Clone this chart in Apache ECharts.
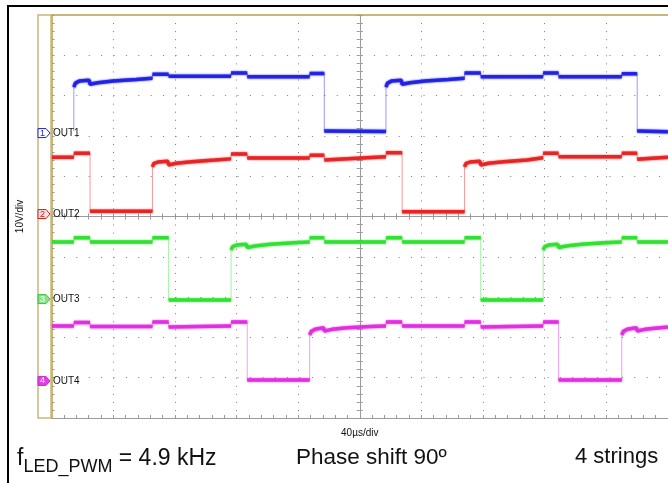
<!DOCTYPE html>
<html>
<head>
<meta charset="utf-8">
<title>OUT1-OUT4 phase shifted PWM</title>
<script src="https://cdn.jsdelivr.net/npm/echarts@6/dist/echarts.min.js"></script>
<style>
  html, body { margin: 0; padding: 0; background: #fff; }
  #scope { width: 668px; height: 483px; }
</style>
</head>
<body>
<div id="scope"></div>
<script>
// scope screen: 40us/div horizontally, 10V/div vertically, 10 x 10 div
// time in us, 0 = centre of screen; volts are relative to each channel's ground marker
var channelNames = ['OUT1', 'OUT2', 'OUT3', 'OUT4'];
var channelColors = ['#1f1fe6', '#e82020', '#2ee02e', '#e12ae1'];
var channelOffsets = [20.7, 0.6, -20.5, -40.8];   // position of the ground markers (V on screen)

// OUT1 low part before the first edge is hidden under its label on the screen
var out1 = [[-185.5, 0.5], [-185.5, 11.4], [-184.5, 12.4], [-182, 12.9], [-175.5, 13.1],
  [-175, 12.1], [-170, 12.5], [-160, 12.9], [-145, 13.3], [-134.5, 13.6], [-134.5, 14.6], [-124, 14.6],
  [-124, 14.1], [-83.5, 14.1], [-83.5, 14.9], [-73, 14.9], [-73, 14.0], [-32.5, 14.0], [-32.5, 14.8],
  [-23, 14.8], [-23, 0.5], [17, 0.4], [17, 11.4], [18, 12.4], [20.5, 12.9], [27, 13.1], [27.5, 12.1],
  [32.5, 12.5], [42.5, 12.9], [57.5, 13.3], [68, 13.6], [68, 14.9], [78.5, 14.9], [78.5, 14.0],
  [119, 14.0], [119, 14.9], [129, 14.9], [129, 14.0], [170, 14.0], [170, 14.7], [180, 14.7],
  [180, 0.5], [200, 0.3]];

var out2 = [[-200, 14.1], [-185.5, 14.1], [-185.5, 15.1], [-175, 15.1], [-175, 0.7], [-134.5, 0.7],
  [-134.5, 11.7], [-133.5, 12.6], [-131, 12.9], [-124.5, 13.1], [-124, 12.2], [-119, 12.6], [-109, 13.0],
  [-94, 13.4], [-83.5, 13.7], [-83.5, 14.9], [-73, 14.9], [-73, 13.9], [-32.5, 13.9], [-32.5, 14.6],
  [-23, 14.6], [-23, 13.4], [17, 14.2], [17, 15.2], [27.5, 15.2], [27.5, 0.6], [68, 0.6], [68, 11.7],
  [69, 12.6], [71.5, 12.9], [78, 13.1], [78.5, 12.2], [83.5, 12.6], [93.5, 13.0], [108.5, 13.4],
  [119, 14.0], [119, 15.1], [129, 15.1], [129, 14.2], [170, 14.2], [170, 15.1], [180, 15.1],
  [180, 13.6], [200, 14.1]];

var out3 = [[-200, 14.2], [-185.5, 14.2], [-185.5, 15.2], [-175, 15.2], [-175, 14.2], [-134.5, 14.2],
  [-134.5, 15.2], [-124, 15.2], [-124, -0.2], [-83.5, -0.2], [-83.5, 12.2], [-82.5, 13.0], [-80, 13.4],
  [-73.5, 13.6], [-73, 12.8], [-68, 13.2], [-58, 13.6], [-43, 14.0], [-32.5, 14.2], [-32.5, 15.2],
  [-23, 15.2], [-23, 14.2], [17, 14.2], [17, 15.2], [27.5, 15.2], [27.5, 14.2], [68, 14.2], [68, 15.2],
  [78.5, 15.2], [78.5, -0.2], [119, -0.2], [119, 12.2], [120, 13.0], [122.5, 13.4], [128.5, 13.6],
  [129, 12.8], [134, 13.2], [144, 13.6], [159, 14.0], [170, 14.2], [170, 15.2], [180, 15.2],
  [180, 14.2], [200, 14.2]];

var out4 = [[-200, 13.6], [-185.5, 13.6], [-185.5, 14.5], [-175, 14.5], [-175, 13.5], [-134.5, 13.5],
  [-134.5, 14.6], [-124, 14.6], [-124, 13.4], [-83.5, 13.6], [-83.5, 14.6], [-73, 14.6], [-73, 0.2],
  [-32.5, 0.2], [-32.5, 11.4], [-31.5, 12.3], [-29, 12.8], [-23.5, 13.2], [-23, 12.4], [-18, 12.8],
  [-8, 13.2], [7, 13.5], [17, 13.6], [17, 14.6], [27.5, 14.6], [27.5, 13.6], [68, 13.6], [68, 14.6],
  [78.5, 14.6], [78.5, 13.4], [119, 13.6], [119, 14.6], [129, 14.6], [129, 0.2], [170, 0.2],
  [170, 11.4], [171, 12.3], [173.5, 12.8], [179.5, 13.2], [180, 12.4], [185, 12.8], [195, 13.2],
  [200, 13.4]];

var traces = [out1, out2, out3, out4];

var tan = '#c8b878';
var dotGrey = '#7a7a7a';
var axisGrey = '#9a9a9a';

var chart = echarts.init(document.getElementById('scope'), null, { renderer: 'canvas' });

// thin faint line for the whole trace (shows the fast edges), thick line for the flat parts
var series = [];
traces.forEach(function (pts, c) {
    var off = channelOffsets[c];
    var thin = pts.map(function (p) { return [p[0], p[1] + off]; });
    var thick = [];
    pts.forEach(function (p, i) {
        if (i > 0 && p[0] === pts[i - 1][0]) thick.push([p[0], '-']);
        thick.push([p[0], p[1] + off]);
    });
    series.push({
        type: 'line', name: channelNames[c] + ' edge', data: thin, symbol: 'none', silent: true,
        lineStyle: { width: 1, color: channelColors[c], opacity: 0.45 }, z: 3
    });
    series.push({
        type: 'line', name: channelNames[c], data: thick, symbol: 'none', silent: true,
        lineStyle: { width: 3.5, color: channelColors[c], opacity: 0.9, shadowBlur: 2, shadowColor: channelColors[c] }, z: 4
    });
});

function centreAxis(pos, isX) {
    return {
        type: 'value', position: pos,
        min: isX ? -200 : -50, max: isX ? 200 : 50, interval: isX ? 40 : 10,
        axisLine: { show: true, onZero: true, lineStyle: { color: axisGrey, width: 1 } },
        axisTick: { show: true, inside: false, length: 3, lineStyle: { color: axisGrey } },
        minorTick: { show: true, splitNumber: 5, length: 3, lineStyle: { color: axisGrey } },
        axisLabel: { show: false },
        splitLine: { show: false }
    };
}

var xCentreDown = centreAxis('bottom', true);
xCentreDown.splitLine = { show: true, lineStyle: { color: dotGrey, width: 1, type: [1, 7.06] } };
var yCentreLeft = centreAxis('left', false);
yCentreLeft.splitLine = { show: true, lineStyle: { color: dotGrey, width: 1, type: [1, 11.4] } };

var option = {
    backgroundColor: '#fff',
    animation: false,
    grid: { left: 51.5, top: 15, width: 620, height: 403, containLabel: false },
    xAxis: [
        xCentreDown,
        centreAxis('top', true),
        {
            type: 'value', position: 'bottom', min: -200, max: 200, interval: 40,
            axisLine: { onZero: false, lineStyle: { color: axisGrey, width: 1 } },
            axisTick: { show: true, inside: true, length: 3, lineStyle: { color: axisGrey } },
            minorTick: { show: true, splitNumber: 5, length: 3, lineStyle: { color: axisGrey } },
            axisLabel: { show: false }, splitLine: { show: false },
            name: '40µs/div', nameLocation: 'middle', nameGap: 10,
            nameTextStyle: { fontFamily: 'Liberation Sans', fontSize: 10, color: '#111' }
        },
        {
            type: 'value', position: 'top', min: -200, max: 200, interval: 40,
            axisLine: { onZero: false, lineStyle: { color: tan, width: 2 } },
            axisTick: { show: false }, axisLabel: { show: false }, splitLine: { show: false }
        }
    ],
    yAxis: [
        yCentreLeft,
        centreAxis('right', false),
        {
            type: 'value', position: 'left', min: -50, max: 50, interval: 10,
            axisLine: { onZero: false, lineStyle: { color: tan, width: 2 } },
            axisTick: { show: true, inside: true, length: 3, lineStyle: { color: axisGrey } },
            minorTick: { show: true, splitNumber: 5, length: 3, lineStyle: { color: axisGrey } },
            axisLabel: { show: false }, splitLine: { show: false },
            name: '10V/div', nameLocation: 'middle', nameRotate: 90, nameGap: 26,
            nameTextStyle: { fontFamily: 'Liberation Sans', fontSize: 10, color: '#111' }
        }
    ],
    series: series
};

chart.setOption(option);

// frame, channel markers and captions
var graphics = [
    { type: 'rect', shape: { x: 8, y: 6, width: 700, height: 520 }, style: { fill: null, stroke: '#000', lineWidth: 2 }, z: 1 },
    { type: 'rect', shape: { x: 38, y: 15, width: 13, height: 403 }, style: { fill: null, stroke: tan, lineWidth: 1.5 }, z: 5 }
];
var markerFill = ['#ffffff', '#fbe3e3', '#86e586', '#e040e0'];
var markerText = ['#1f1fc8', '#d01818', '#ffffff', '#ffffff'];
var markerStroke = ['#1f1fc8', '#d01818', '#3cc03c', '#c828c8'];
channelNames.forEach(function (name, c) {
    var y = chart.convertToPixel({ yAxisIndex: 0 }, channelOffsets[c]);
    graphics.push({
        type: 'polygon', z: 6,
        shape: { points: [[38, y - 4.5], [46, y - 4.5], [50, y], [46, y + 4.5], [38, y + 4.5]] },
        style: { fill: markerFill[c], stroke: markerStroke[c], lineWidth: 1 }
    });
    graphics.push({
        type: 'text', z: 7, x: 42.5, y: y,
        style: { text: String(c + 1), fill: markerText[c], font: '9px "Liberation Sans"', align: 'center', verticalAlign: 'middle' }
    });
    graphics.push({
        type: 'text', z: 7, x: 53, y: y + 0.5,
        style: { text: name, fill: '#111', font: '10px "Liberation Sans"', align: 'left', verticalAlign: 'middle' }
    });
});
graphics.push({
    type: 'text', z: 7, x: 17, y: 445,
    style: {
        text: '{m|f}{s|LED_PWM}{m| = 4.9 kHz}',
        fill: '#111',
        rich: {
            m: { fontFamily: 'Liberation Sans', fontSize: 23, lineHeight: 27, fill: '#111' },
            s: { fontFamily: 'Liberation Sans', fontSize: 18, lineHeight: 18, verticalAlign: 'bottom', padding: [0, 0, -4, 0], fill: '#111' }
        }
    }
});
graphics.push({
    type: 'text', z: 7, x: 296, y: 446,
    style: { text: 'Phase shift 90º', fill: '#111', font: '22.5px "Liberation Sans"' }
});
graphics.push({
    type: 'text', z: 7, x: 575, y: 446,
    style: { text: '4 strings', fill: '#111', font: '22px "Liberation Sans"' }
});

chart.setOption({ graphic: graphics });
</script>
</body>
</html>
